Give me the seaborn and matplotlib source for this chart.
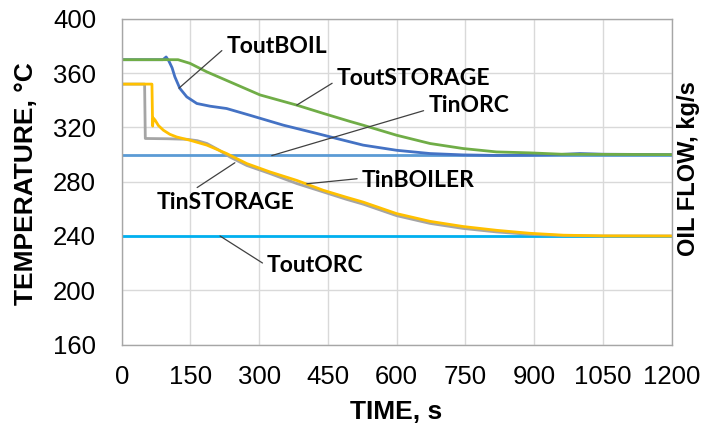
import numpy as np
import pandas as pd
import matplotlib
matplotlib.use("Agg")
import matplotlib.pyplot as plt
from matplotlib.ticker import MultipleLocator
import seaborn as sns

# ---------------- data ----------------
t_tinorc = [0, 1200]
T_tinorc = [300, 300]

t_toutorc = [0, 1200]
T_toutorc = [240, 240]

t_tinstorage = [0, 50, 51.5, 100, 142, 165, 186, 210, 236, 273, 324, 382, 440, 491, 527,
                600, 673, 745, 818, 891, 964, 1050, 1200]
T_tinstorage = [352, 352, 311.9, 311.7, 311.3, 310.3, 308.2, 303.8, 298.3, 292, 286,
                278.7, 272.5, 267, 263.5, 255, 249.3, 245.6, 243, 241.2, 240.3, 240, 240]

t_toutboil = [0, 90, 97, 103, 110, 116, 127, 142, 164, 193, 229, 280, 353, 426, 469,
              527, 600, 673, 745, 818, 891, 950, 1000, 1050, 1200]
T_toutboil = [370, 370, 372, 369, 364, 357.4, 348.8, 342.6, 337.7, 335.7, 334, 329,
              321.7, 315.6, 311.9, 307, 303.2, 300.8, 299.8, 299.4, 299.6, 300, 300.8,
              300.3, 300]

t_tinboiler = [0, 66, 67.5, 69, 73, 80, 91, 105, 120, 149, 186, 229, 273, 324, 382,
               440, 491, 527, 600, 673, 745, 818, 891, 964, 1050, 1200]
T_tinboiler = [352, 352, 321, 327, 325.4, 321.5, 318, 315, 313, 310.6, 307, 300.8,
               293.4, 287.2, 281, 273.7, 268.5, 265, 256.5, 250.8, 247, 244.2, 242,
               240.6, 240.1, 240]

t_toutstorage = [0, 123, 149, 186, 244, 302, 382, 440, 498, 527, 600, 673, 745, 818,
                 891, 960, 1200]
T_toutstorage = [370, 370, 367.3, 361, 352.5, 344, 336.5, 330.4, 324.5, 321.7, 314.3,
                 308.2, 304.5, 302, 301.3, 300.3, 300]

series_names = ["TinORC", "ToutORC", "TinSTORAGE", "ToutBOIL", "TinBOILER", "ToutSTORAGE"]
series_t = [t_tinorc, t_toutorc, t_tinstorage, t_toutboil, t_tinboiler, t_toutstorage]
series_T = [T_tinorc, T_toutorc, T_tinstorage, T_toutboil, T_tinboiler, T_toutstorage]
series_colors = ["#5B9BD5", "#00B0F0", "#A5A5A5", "#4472C4", "#FFC000", "#70AD47"]

x_ticks = [0, 150, 300, 450, 600, 750, 900, 1050, 1200]
y_ticks = [160, 200, 240, 280, 320, 360, 400]

# label text, text anchor (t, T), leader end (t, T), relpos on text box
labels = ["ToutBOIL", "ToutSTORAGE", "TinORC", "TinBOILER", "TinSTORAGE", "ToutORC"]
label_pos = [(228, 379.5), (469, 356.2), (669, 336.5), (524, 281), (76, 265), (317, 218)]
label_tip = [(125, 349), (382, 336.5), (327.5, 299.3), (404, 278.5), (247, 294), (214.6, 240)]
label_rel = [(0, 0.5), (0, 0.4), (0, 0.3), (0, 0.6), (0.25, 1.0), (0, 0.5)]

# ---------------- plot ----------------
sns.set_theme(style="white")
plt.rcParams["font.family"] = ["Liberation Sans", "DejaVu Sans"]

fig = plt.figure(figsize=(7.02, 4.30), dpi=100)
ax_bottom, ax_top = 344.5, 19.0
ax = fig.add_axes([121.7 / 702, 1 - ax_bottom / 430, (671.5 - 121.7) / 702,
                   (ax_bottom - ax_top) / 430])

frames = []
for name, tt, TT in zip(series_names, series_t, series_T):
    frames.append(pd.DataFrame({"time": tt, "temp": TT, "series": name}))
df = pd.concat(frames, ignore_index=True)

for name, col in zip(series_names, series_colors):
    sns.lineplot(data=df[df["series"] == name], x="time", y="temp", color=col,
                 linewidth=2.0, estimator=None, sort=False, ax=ax, legend=False)
for ln in ax.get_lines():
    ln.set_solid_joinstyle("round")

ax.set_xlim(0, 1200)
ax.set_ylim(160, 400)
ax.set_xticks(x_ticks)
ax.set_yticks(y_ticks)
ax.xaxis.set_minor_locator(MultipleLocator(50))
ax.grid(True, which="major", color="#D9D9D9", linewidth=1.0)
ax.set_axisbelow(True)
for s in ax.spines.values():
    s.set_color("#A6A6A6")
    s.set_linewidth(1.0)

ax.tick_params(axis="x", which="both", direction="in", length=4, color="#A6A6A6",
               labelsize=18.5, pad=14.5, labelcolor="#000000")
ax.tick_params(axis="y", which="both", length=0, labelsize=18.5, pad=18.5,
               labelcolor="#000000")

ax.set_xlabel("TIME, s", fontsize=19, fontweight="bold", color="#000000")
ax.set_ylabel("TEMPERATURE, \u00b0C", fontsize=19, fontweight="bold", color="#000000")
ax.xaxis.set_label_coords(0.5, -0.17)
ax.yaxis.set_label_coords(-0.152, 0.494)

ax2 = ax.twinx()
ax2.set_ylim(0, 1)
ax2.set_yticks([])
for s in ax2.spines.values():
    s.set_visible(False)
ax2.set_ylabel("OIL FLOW, kg/s", fontsize=17, fontweight="bold", color="#000000")
ax2.yaxis.set_label_coords(1.01, 0.54)

for lab, pos, tip, rel in zip(labels, label_pos, label_tip, label_rel):
    ax.annotate(lab, xy=tip, xytext=pos, ha="left", va="center",
                fontsize=16.5, fontweight="bold", family=["Lato", "DejaVu Sans"],
                color="#000000",
                arrowprops=dict(arrowstyle="-", color="#404040", lw=0.9,
                                shrinkA=1, shrinkB=0, relpos=rel))

fig.savefig("out.png", dpi=100)
